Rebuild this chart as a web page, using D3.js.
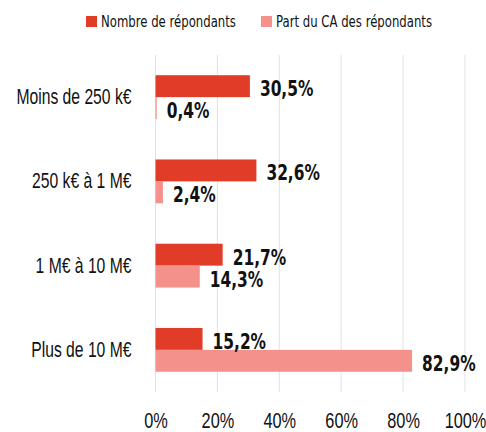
<!DOCTYPE html>
<html>
<head>
<meta charset="utf-8">
<script src="https://cdn.jsdelivr.net/npm/d3@7"></script>
<style>
  html, body { margin: 0; padding: 0; background: #fff; }
  svg { display: block; font-family: "DejaVu Sans Condensed", "Liberation Sans Narrow", sans-serif; }
</style>
</head>
<body>
<div id="chart"></div>
<script>
// Chart data
const categories = ["Moins de 250 k€", "250 k€ à 1 M€", "1 M€ à 10 M€", "Plus de 10 M€"];
const seriesNames = ["Nombre de répondants", "Part du CA des répondants"];
const nombre = [30.5, 32.6, 21.7, 15.2];
const partCA = [0.4, 2.4, 14.3, 82.9];
const xTicks = [0, 20, 40, 60, 80, 100];

const colors = ["#e03c28", "#f4918a"];

const width = 486, height = 432;
const margin = { top: 55, right: 21, bottom: 40, left: 155.5 };

const svg = d3.select("#chart").append("svg")
  .attr("width", width)
  .attr("height", height);

const x = d3.scaleLinear().domain([0, 100]).range([margin.left, width - margin.right]);
const y = d3.scaleBand().domain(categories).range([margin.top, height - margin.bottom]).paddingInner(0.48).paddingOuter(0.24);
const ySub = d3.scaleBand().domain(seriesNames).range([0, y.bandwidth()]);

const fmt = (v) => v.toFixed(1).replace(".", ",") + "%";

// squeeze text horizontally to get the narrow look of the original font
function condense(sel, k) {
  sel.each(function () {
    const t = d3.select(this);
    const tx = +t.attr("x") || 0;
    const ty = +t.attr("y") || 0;
    t.attr("x", 0).attr("y", 0)
      .attr("transform", `translate(${tx},${ty}) scale(${k},1)`);
  });
}

// grid
svg.append("g")
  .selectAll("line")
  .data(xTicks)
  .join("line")
  .attr("x1", (d) => x(d)).attr("x2", (d) => x(d))
  .attr("y1", margin.top).attr("y2", height - margin.bottom)
  .attr("stroke", "#e2e2e2")
  .attr("stroke-width", 1);

// x axis labels
const xAxis = d3.axisBottom(x).tickValues(xTicks).tickSize(0).tickPadding(0).tickFormat((d) => d + "%");
svg.append("g")
  .attr("transform", `translate(0,428)`)
  .call(xAxis)
  .call((g) => g.select(".domain").remove())
  .selectAll("text")
  .attr("dy", null)
  .attr("font-size", 21.5)
  .attr("font-family", null)
  .attr("fill", "#111")
  .call(condense, 0.76);

// y axis labels
const yAxis = d3.axisLeft(y).tickSize(0).tickPadding(24);
svg.append("g")
  .attr("transform", `translate(${margin.left},0)`)
  .call(yAxis)
  .call((g) => g.select(".domain").remove())
  .selectAll("text")
  .attr("font-size", 21.5)
  .attr("font-family", null)
  .attr("fill", "#111")
  .call(condense, 0.73);

// bars
const rows = categories.map((c, i) => ({ cat: c, values: [nombre[i], partCA[i]] }));
const groups = svg.append("g").selectAll("g")
  .data(rows)
  .join("g")
  .attr("transform", (d) => `translate(0,${y(d.cat)})`);

groups.selectAll("rect")
  .data((d) => d.values.map((v, j) => ({ v, s: seriesNames[j], j })))
  .join("rect")
  .attr("x", x(0))
  .attr("y", (d) => ySub(d.s))
  .attr("width", (d) => x(d.v) - x(0))
  .attr("height", ySub.bandwidth())
  .attr("fill", (d) => colors[d.j]);

groups.selectAll("text")
  .data((d) => d.values.map((v, j) => ({ v, s: seriesNames[j], j })))
  .join("text")
  .attr("x", (d) => x(d.v) + 10)
  .attr("y", (d) => ySub(d.s) + ySub.bandwidth() / 2 + 2)
  .attr("dy", "0.36em")
  .attr("font-size", 22)
  .attr("font-weight", "bold")
  .attr("fill", "#111")
  .text((d) => fmt(d.v))
  .call(condense, 0.78);

// legend
const legend = svg.append("g");
const legendX = [86, 261];
seriesNames.forEach((name, i) => {
  const lg = legend.append("g").attr("transform", `translate(${legendX[i]},16)`);
  lg.append("rect").attr("width", 11).attr("height", 11).attr("fill", colors[i]);
  lg.append("text").attr("x", 15).attr("y", 11)
    .attr("font-size", 15.5).attr("fill", "#111").text(name)
    .call(condense, 0.84);
});
</script>
</body>
</html>
